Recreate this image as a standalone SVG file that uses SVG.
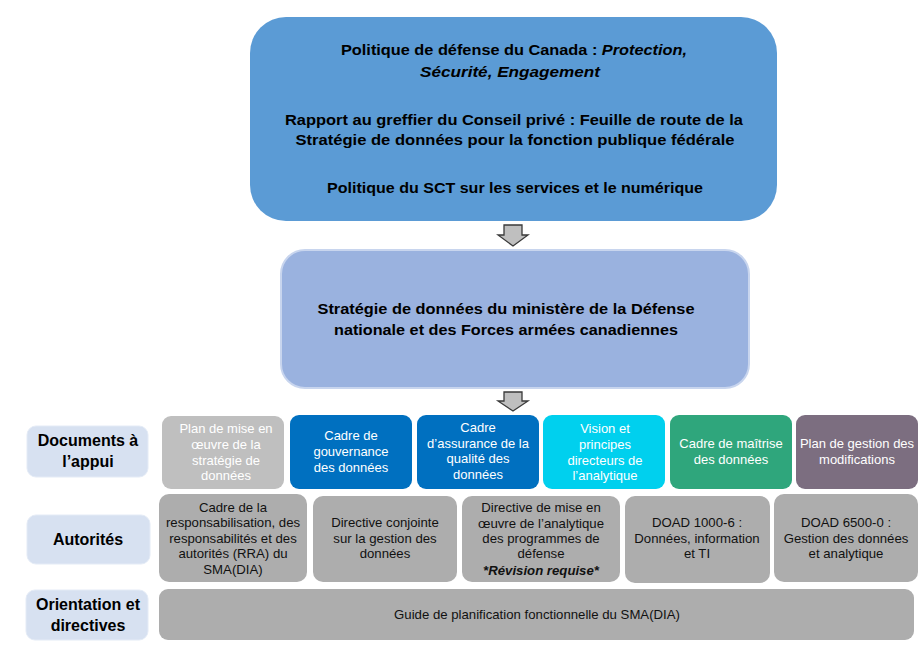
<svg xmlns="http://www.w3.org/2000/svg" width="922" height="653" viewBox="0 0 922 653">
<style>
text{font-family:"Liberation Sans",Arial,sans-serif;text-anchor:middle}
.big{font-size:15.5px;font-weight:bold;fill:#000}
.lab{font-size:16px;font-weight:bold;fill:#000}
.w{font-size:13px;fill:#fff}
.k{font-size:13.2px;fill:#111}
.lb{fill:#D7E1F1;stroke:#E4EBF6;stroke-width:1}
.g{fill:#ADADAD}
.arrow{fill:#BFBFBF;stroke:#3A3A3A;stroke-width:1.3;stroke-linejoin:miter}
</style>
<rect width="922" height="653" fill="#fff"/>

<g id="politiques">
<rect x="250" y="17" width="527" height="204" rx="36" fill="#5B9BD5"/>
<text class="big" x="514" y="55" textLength="346" lengthAdjust="spacingAndGlyphs">Politique de défense du Canada : <tspan font-style="italic">Protection,</tspan></text>
<text class="big" x="510" y="77" font-style="italic" textLength="180" lengthAdjust="spacingAndGlyphs">Sécurité, Engagement</text>
<text class="big" x="514" y="125" textLength="458" lengthAdjust="spacingAndGlyphs">Rapport au greffier du Conseil privé : Feuille de route de la</text>
<text class="big" x="515" y="145" textLength="439" lengthAdjust="spacingAndGlyphs">Stratégie de données pour la fonction publique fédérale</text>
<text class="big" x="515" y="193" textLength="376" lengthAdjust="spacingAndGlyphs">Politique du SCT sur les services et le numérique</text>
</g>

<g id="strategie">
<rect x="281" y="250" width="468" height="138" rx="24" fill="#9AB2DF" stroke="#C8D5EE" stroke-width="2"/>
<text class="big" x="506" y="314" textLength="377" lengthAdjust="spacingAndGlyphs">Stratégie de données du ministère de la Défense</text>
<text class="big" x="506" y="335" textLength="344" lengthAdjust="spacingAndGlyphs">nationale et des Forces armées canadiennes</text>
</g>

<g id="connecteurs">
<path class="arrow" d="M504,225 H522 V235 H528 L513,246 L498,235 H504 Z"/>
<path class="arrow" d="M504,392 H522 V401 H528 L513,411 L498,401 H504 Z"/>
</g>

<g id="lbl-documents">
<rect class="lb" x="27" y="426" width="121" height="51" rx="9"/>
<text class="lab" x="88" y="446">Documents à</text>
<text class="lab" x="88" y="467">l’appui</text>
</g>
<g id="lbl-autorites">
<rect class="lb" x="27" y="515" width="123" height="49" rx="9"/>
<text class="lab" x="88" y="545">Autorités</text>
</g>
<g id="lbl-orientation">
<rect class="lb" x="26" y="590" width="122" height="50" rx="9"/>
<text class="lab" x="88" y="610">Orientation et</text>
<text class="lab" x="88" y="631">directives</text>
</g>

<g id="doc-plan-mise">
<rect x="162" y="416" width="122" height="73" rx="9" fill="#BFBFBF"/>
<text class="w" x="226" y="433">Plan de mise en</text>
<text class="w" x="226" y="449">œuvre de la</text>
<text class="w" x="226" y="465">stratégie de</text>
<text class="w" x="226" y="480">données</text>
</g>
<g id="doc-gouvernance">
<rect x="290" y="415" width="122" height="74" rx="9" fill="#0070C0"/>
<text class="w" x="351" y="440">Cadre de</text>
<text class="w" x="351" y="456">gouvernance</text>
<text class="w" x="351" y="472">des données</text>
</g>
<g id="doc-qualite">
<rect x="417" y="415" width="122" height="74" rx="9" fill="#0070C0"/>
<text class="w" x="478" y="432">Cadre</text>
<text class="w" x="478" y="448">d’assurance de la</text>
<text class="w" x="478" y="463">qualité des</text>
<text class="w" x="478" y="479">données</text>
</g>
<g id="doc-vision">
<rect x="543" y="415" width="122" height="74" rx="9" fill="#00D0EE"/>
<text class="w" x="605" y="433">Vision et</text>
<text class="w" x="605" y="449">principes</text>
<text class="w" x="605" y="465">directeurs de</text>
<text class="w" x="605" y="480">l’analytique</text>
</g>
<g id="doc-maitrise">
<rect x="670" y="415" width="122" height="74" rx="9" fill="#2FA67C"/>
<text class="w" x="731" y="448">Cadre de maîtrise</text>
<text class="w" x="731" y="464">des données</text>
</g>
<g id="doc-modifications">
<rect x="796" y="415" width="122" height="74" rx="9" fill="#7C6E80"/>
<text class="w" x="857" y="448">Plan de gestion des</text>
<text class="w" x="857" y="464">modifications</text>
</g>

<g id="aut-rra">
<rect class="g" x="159" y="494" width="148" height="88" rx="10"/>
<text class="k" x="233" y="512">Cadre de la</text>
<text class="k" x="233" y="527">responsabilisation, des</text>
<text class="k" x="233" y="543">responsabilités et des</text>
<text class="k" x="233" y="558">autorités (RRA) du</text>
<text class="k" x="233" y="574">SMA(DIA)</text>
</g>
<g id="aut-directive-conjointe">
<rect class="g" x="313" y="496" width="144" height="86" rx="10"/>
<text class="k" x="385" y="527">Directive conjointe</text>
<text class="k" x="385" y="543">sur la gestion des</text>
<text class="k" x="385" y="558">données</text>
</g>
<g id="aut-directive-analytique">
<rect class="g" x="462" y="496" width="158" height="86" rx="10"/>
<text class="k" x="541" y="512">Directive de mise en</text>
<text class="k" x="541" y="528">œuvre de l’analytique</text>
<text class="k" x="541" y="543">des programmes de</text>
<text class="k" x="541" y="558">défense</text>
<text class="k" x="541" y="575" font-weight="bold" font-style="italic">*Révision requise*</text>
</g>
<g id="aut-doad-1000">
<rect class="g" x="625" y="496" width="145" height="87" rx="10"/>
<text class="k" x="697" y="527">DOAD 1000-6 :</text>
<text class="k" x="697" y="543">Données, information</text>
<text class="k" x="697" y="558">et TI</text>
</g>
<g id="aut-doad-6500">
<rect class="g" x="774" y="494" width="144" height="88" rx="10"/>
<text class="k" x="846" y="527">DOAD 6500-0 :</text>
<text class="k" x="846" y="543">Gestion des données</text>
<text class="k" x="846" y="558">et analytique</text>
</g>

<g id="orient-guide">
<rect class="g" x="159" y="589" width="755" height="51" rx="9"/>
<text class="k" x="537" y="619" font-size="14px">Guide de planification fonctionnelle du SMA(DIA)</text>
</g>
</svg>
